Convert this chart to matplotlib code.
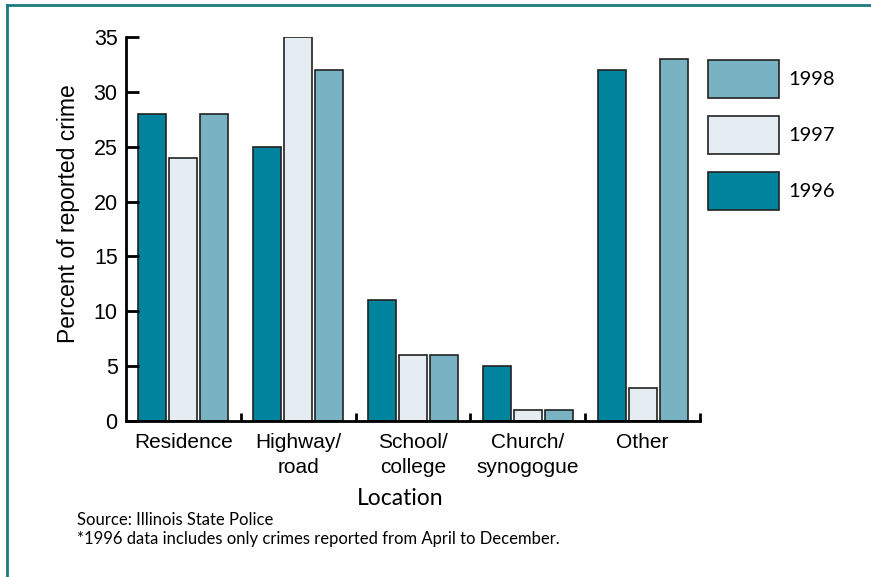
import matplotlib.pyplot as plt
from matplotlib.lines import Line2D
import numpy as np

locations = ['Residence', 'Highway/\nroad', 'School/\ncollege', 'Church/\nsynogogue', 'Other']
pct_1996 = [28, 25, 11, 5, 32]
pct_1997 = [24, 35, 6, 1, 3]
pct_1998 = [28, 32, 6, 1, 33]
years = ['1996', '1997', '1998']
colors = ['#00839d', '#e5edf3', '#79b3c3']

plt.rcParams['font.family'] = ['Liberation Sans', 'DejaVu Sans']

fig = plt.figure(figsize=(8.71, 5.77), dpi=100)
ax = fig.add_axes([126 / 871, 1 - 421 / 577, (700 - 126) / 871, (421 - 37) / 577])

centers = np.arange(len(locations)) + 0.5
width = 0.244
step = 0.27
bars = []
for k, (vals, col, yr) in enumerate(zip([pct_1996, pct_1997, pct_1998], colors, years)):
    b = ax.bar(centers + (k - 1) * step, vals, width, color=col,
               edgecolor='#222222', linewidth=1.2, label=yr)
    bars.append(b)

ax.set_xlim(0, len(locations))
ax.set_ylim(0, 35)
for s in ['top', 'right']:
    ax.spines[s].set_visible(False)
ax.spines['left'].set_linewidth(2)
ax.spines['bottom'].set_linewidth(2)

ax.set_yticks(range(0, 36, 5))
ax.tick_params(axis='y', direction='in', length=9, width=2, labelsize=15.5, pad=6)
ax.set_xticks(centers, locations)
ax.tick_params(axis='x', which='major', length=0, labelsize=15, pad=9)
ax.set_xticks(np.arange(1, len(locations) + 1), minor=True)
ax.tick_params(axis='x', which='minor', direction='in', length=6, width=2)
for lbl in ax.get_xticklabels():
    lbl.set_linespacing(1.35)

ax.set_ylabel('Percent of reported crime', fontsize=16.5)
ax.yaxis.set_label_coords((80 - 126) / 574, (421 - 214) / 384)
ax.set_xlabel('Location', fontsize=16.5, family=['Lato', 'DejaVu Sans'])
ax.xaxis.set_label_coords((400 - 126) / 574, -(488 - 421) / 384)

# legend with boxes stacked top to bottom: 1998, 1997, 1996
handles = bars[::-1]
fig.legend(handles, years[::-1], loc='upper left',
           bbox_to_anchor=(708 / 871, 1 - 60 / 577), frameon=False,
           borderpad=0, borderaxespad=0, handlelength=3.55, handleheight=2.55,
           labelspacing=0.88, handletextpad=0.45,
           prop={'family': ['Lato', 'DejaVu Sans'], 'size': 14.5})

fig.text(77 / 871, 1 - 520 / 577, 'Source: Illinois State Police',
         fontsize=12, family=['Lato', 'DejaVu Sans'], va='center')
fig.text(77 / 871, 1 - 539 / 577,
         '*1996 data includes only crimes reported from April to December.',
         fontsize=12, family=['Lato', 'DejaVu Sans'], va='center')

# teal frame along the top and left edges
border = '#1a7b7b'
fig.add_artist(Line2D([7 / 871, 1], [1 - 5 / 577, 1 - 5 / 577], color=border, lw=2))
fig.add_artist(Line2D([7 / 871, 7 / 871], [0, 1 - 5 / 577], color=border, lw=2))

fig.savefig('out.png', dpi=100)
